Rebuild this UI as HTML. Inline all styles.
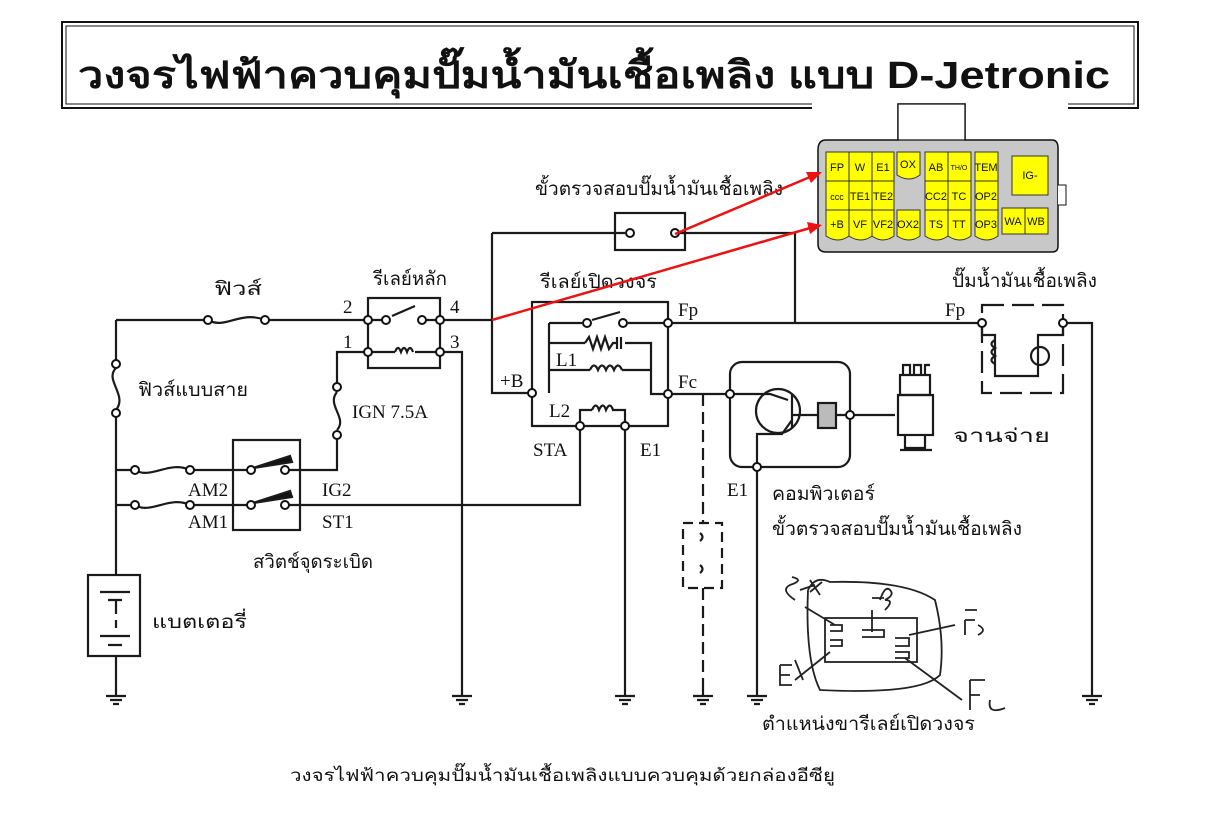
<!DOCTYPE html>
<html><head><meta charset="utf-8"><style>
body{margin:0;background:#fff;}
svg{display:block;}
text{font-family:"Liberation Serif","Noto Sans CJK SC",serif;fill:#111;}
text.th{font-family:"Liberation Sans","Noto Sans CJK SC",sans-serif;}
text.cn{font-family:"Liberation Sans",sans-serif;}
</style></head><body>
<svg width="1205" height="822" viewBox="0 0 1205 822" xmlns="http://www.w3.org/2000/svg">
<rect width="1205" height="822" fill="#fff"/>
<rect x="62" y="22" width="1076" height="86" fill="none" stroke="#111" stroke-width="2"/>
<rect x="66" y="26" width="1068" height="78" fill="none" stroke="#111" stroke-width="1"/>
<text x="78" y="88" class="th" font-size="38" font-weight="bold" textLength="1032" lengthAdjust="spacingAndGlyphs">วงจรไฟฟ้าควบคุมปั๊มน้ำมันเชื้อเพลิง แบบ D-Jetronic</text>

<g stroke="#1a1a1a" stroke-width="2.2" fill="none">
<path d="M116 320 H208 M265 320 H368"/>
<path d="M208 320 C225 330 240 310 265 320"/>
<rect x="368" y="298" width="72" height="70"/>
<path d="M368 320 H385 M392 316 L415 306 M425 320 H440 M368 352 H395 M415 352 H440"/>
<path d="M395 352 q3 -8 6 0 q3 -8 6 0 q3 -8 6 0"/>
<path d="M440 320 H492"/>
<path d="M116 320 V362 M116 415 V575 M116 656 V690"/>
<path d="M116 368 C104 380 128 395 116 410"/>
<path d="M368 352 H337 V387 M337 435 V470 H300"/>
<path d="M337 392 C326 405 348 418 337 430"/>
<path d="M440 352 H462 V690"/>
<rect x="233" y="440" width="67" height="90"/>
<path d="M116 470 H135 M190 470 H233 M233 470 H250 M285 470 H300 M116 505 H135 M190 505 H233 M233 505 H250 M285 505 H580 V426"/>
<path d="M135 470 C150 480 170 460 190 470 M135 505 C150 515 170 495 190 505"/>
<path d="M253 468 L290 456 L292 462 Z M253 503 L290 491 L292 497 Z" fill="#111"/>
<rect x="88" y="575" width="52" height="81"/>
<path d="M100 592 H130 M108 600 H122 M116 600 V614 M116 620 V628 M100 636 H130 M108 645 H122"/>
<rect x="615" y="213" width="70" height="37"/>
<path d="M492 233 H625 M680 233 H795 V323 M492 233 V393 H532"/>
<path d="M532 302 H668 V426 H532 Z"/>
<path d="M549 323 V393 M549 323 H582 M592 320 L620 312 M628 323 H668 M549 343 H585 M625 343 H651 V394 H668 M549 370 H590 M622 370 H651"/>
<path d="M585 343 l4 -6 l4 12 l4 -12 l4 12 l4 -12 l4 12 l4 -6 H617 M617 337 V349 M621 337 V349"/>
<path d="M590 370 q4 -9 8 0 q4 -9 8 0 q4 -9 8 0 q4 -9 8 0"/>
<path d="M580 426 V410 H592 M612 410 H625 V426 M625 426 V690"/>
<path d="M592 410 q4 -9 7 0 q4 -9 7 0 q4 -9 7 0"/>
<path d="M668 323 H982 M1063 323 H1092 V690"/>
<rect x="982" y="305" width="81" height="88" stroke-dasharray="22 8"/>
<path d="M982 323 V335 H995 V376 H1015 M1063 323 V335 H1038 V376 H1015"/>
<path d="M995 340 q-7 4 0 8 q-7 4 0 8 q-7 4 0 8"/>
<circle cx="1040" cy="356" r="9"/>
<path d="M668 394 H730"/>
<path d="M703 394 V523 M703 588 V690" stroke-dasharray="12 6"/>
<rect x="683" y="523" width="39" height="65" stroke-dasharray="10 6"/>
<path d="M700 533 q5 4 0 8 M700 573 q5 -4 0 -8"/>
<rect x="730" y="362" width="120" height="105" rx="12"/>
<circle cx="778" cy="411" r="22"/>
<path d="M792 395 V428 M730 394 H770 l18 6 M792 415 H818 M836 415 H895 M792 420 l-10 14 H757 V690"/>
<rect x="818" y="403" width="18" height="25" fill="#bbb"/>
<path d="M900 375 H930 V395 H900 Z M903 375 V365 H910 V375 M914 375 V365 H921 V375 M925 375 V365 H930" />
<rect x="898" y="395" width="35" height="40"/>
<path d="M905 435 V448 H925 V435 M900 450 H932"/>
<path d="M116 690 V696 M106 696 H126 M110 700 H122 M113 704 H119"/>
<path d="M462 690 V696 M452 696 H472 M456 700 H468 M459 704 H465"/>
<path d="M625 690 V696 M615 696 H635 M619 700 H631 M622 704 H628"/>
<path d="M703 690 V696 M693 696 H713 M697 700 H709 M700 704 H706"/>
<path d="M757 690 V696 M747 696 H767 M751 700 H763 M754 704 H760"/>
<path d="M1092 690 V696 M1082 696 H1102 M1086 700 H1098 M1089 704 H1095"/>
</g>
<g fill="#fff" stroke="#111" stroke-width="2">
<circle cx="208" cy="320" r="4"/><circle cx="265" cy="320" r="4"/>
<circle cx="368" cy="320" r="4"/><circle cx="440" cy="320" r="4"/><circle cx="368" cy="352" r="4"/><circle cx="440" cy="352" r="4"/>
<circle cx="386" cy="320" r="4"/><circle cx="422" cy="320" r="4"/>
<circle cx="116" cy="364" r="4"/><circle cx="116" cy="413" r="4"/>
<circle cx="337" cy="387" r="4"/><circle cx="337" cy="435" r="4"/>
<circle cx="135" cy="470" r="4"/><circle cx="190" cy="470" r="4"/><circle cx="135" cy="505" r="4"/><circle cx="190" cy="505" r="4"/>
<circle cx="251" cy="470" r="4"/><circle cx="285" cy="470" r="4"/><circle cx="251" cy="505" r="4"/><circle cx="285" cy="505" r="4"/>
<circle cx="630" cy="233" r="4"/><circle cx="675" cy="233" r="4"/>
<circle cx="532" cy="393" r="4"/><circle cx="668" cy="323" r="4"/><circle cx="668" cy="394" r="4"/><circle cx="580" cy="426" r="4"/><circle cx="625" cy="426" r="4"/>
<circle cx="587" cy="323" r="4"/><circle cx="623" cy="323" r="4"/>
<circle cx="982" cy="323" r="4"/><circle cx="1063" cy="323" r="4"/>
<circle cx="730" cy="394" r="4"/><circle cx="757" cy="467" r="4"/><circle cx="850" cy="415" r="4"/>
</g>
<g font-size="19">
<text x="214" y="295" class="th" textLength="48" lengthAdjust="spacingAndGlyphs">ฟิวส์</text>
<text x="373" y="285" class="th" textLength="74" lengthAdjust="spacingAndGlyphs">รีเลย์หลัก</text>
<text x="343" y="313">2</text><text x="450" y="313">4</text><text x="343" y="348">1</text><text x="450" y="348">3</text>
<text x="138" y="396" class="th" textLength="110" lengthAdjust="spacingAndGlyphs">ฟิวส์แบบสาย</text>
<text x="352" y="418">IGN 7.5A</text>
<text x="188" y="496">AM2</text><text x="188" y="528">AM1</text>
<text x="322" y="496">IG2</text><text x="322" y="528">ST1</text>
<text x="253" y="568" class="th" textLength="120" lengthAdjust="spacingAndGlyphs">สวิตช์จุดระเบิด</text>
<text x="152" y="628" class="th" textLength="95" lengthAdjust="spacingAndGlyphs">แบตเตอรี่</text>
<text x="535" y="195" class="th" textLength="248" lengthAdjust="spacingAndGlyphs">ขั้วตรวจสอบปั๊มน้ำมันเชื้อเพลิง</text>
<text x="540" y="288" class="th" textLength="117" lengthAdjust="spacingAndGlyphs">รีเลย์เปิดวงจร</text>
<text x="500" y="387">+B</text><text x="556" y="366">L1</text><text x="549" y="417">L2</text>
<text x="533" y="456">STA</text><text x="640" y="456">E1</text>
<text x="678" y="316">Fp</text><text x="678" y="388">Fc</text>
<text x="945" y="316">Fp</text>
<text x="952" y="287" class="th" textLength="145" lengthAdjust="spacingAndGlyphs">ปั๊มน้ำมันเชื้อเพลิง</text>
<text x="953" y="442" class="th" textLength="97" lengthAdjust="spacingAndGlyphs">จานจ่าย</text>
<text x="727" y="496">E1</text>
<text x="772" y="500" class="th" textLength="103" lengthAdjust="spacingAndGlyphs">คอมพิวเตอร์</text>
<text x="772" y="535" class="th" textLength="250" lengthAdjust="spacingAndGlyphs">ขั้วตรวจสอบปั๊มน้ำมันเชื้อเพลิง</text>
<text x="762" y="730" class="th" textLength="213" lengthAdjust="spacingAndGlyphs">ตำแหน่งขารีเลย์เปิดวงจร</text>
<text x="290" y="781" class="th" font-size="17" textLength="545" lengthAdjust="spacingAndGlyphs">วงจรไฟฟ้าควบคุมปั๊มน้ำมันเชื้อเพลิงแบบควบคุมด้วยกล่องอีซียู</text>
</g>
<g stroke="#222" stroke-width="1.8" fill="none">
<path d="M808 590 Q815 575 830 582 Q905 580 935 600 Q945 640 940 675 Q920 695 820 690 Q805 660 808 590"/>
<rect x="825" y="618" width="92" height="44"/>
<path d="M830 625 h12 v6 h-12 M830 640 h12 v6 h-12 M862 630 h22 v7 h-22 M895 638 h14 v8 h-14 M895 652 h14 v6 h-14"/>
<path d="M805 607 L835 625 M872 610 V632 M909 635 L955 625 M795 680 L830 652 M905 658 L962 700"/>
<path d="M795 600 q-15 -10 -5 -15 q15 -5 2 -8 M800 590 l15 -5 M810 580 l10 15 M810 592 l12 -10"/>
<path d="M880 600 q5 -15 10 -10 q5 5 -5 10 q10 0 0 10 M872 598 h12"/>
<path d="M965 620 v15 M965 610 h12 M965 620 h10 M978 625 q10 5 0 10"/>
<path d="M780 665 v20 h12 M780 665 h12 M780 675 h10 M795 660 l8 20"/>
<path d="M970 680 v30 M970 680 h15 M970 695 h10 M990 700 q-3 15 15 8"/>
</g>
<g>
<rect x="812" y="100" width="256" height="158" fill="#fff"/>
<path d="M898 104 H965 V140 H1052 Q1058 140 1058 148 V246 Q1058 252 1052 252 H826 Q818 252 818 244 V150 Q818 140 826 140 H898 Z" fill="#c8c8c8" stroke="#111" stroke-width="1.5"/>
<path d="M898 104 H965 V140 H898 Z" fill="#fff" stroke="#111" stroke-width="1.3"/>
<path d="M1058 185 h8 v20 h-8" fill="#fff" stroke="#111"/>
<g fill="#ffff00" stroke="#333" stroke-width="1">
<rect x="826" y="152" width="23" height="29"/><rect x="849" y="152" width="23" height="29"/><rect x="872" y="152" width="22" height="29"/>
<rect x="826" y="181" width="23" height="29"/><rect x="849" y="181" width="23" height="29"/><rect x="872" y="181" width="22" height="29"/>
<path d="M826 210 h23 v26 q-11 8 -23 0 Z M849 210 h23 v26 q-11 8 -23 0 Z M872 210 h22 v26 q-11 8 -22 0 Z"/>
<path d="M897 152 h23 v23 q-11 8 -23 0 Z"/>
<path d="M897 210 h23 v26 q-11 8 -23 0 Z"/>
<rect x="925" y="152" width="23" height="29"/><rect x="948" y="152" width="23" height="29"/>
<rect x="925" y="181" width="23" height="29"/><rect x="948" y="181" width="23" height="29"/>
<path d="M925 210 h23 v26 q-11 8 -23 0 Z M948 210 h23 v26 q-11 8 -23 0 Z"/>
<rect x="975" y="152" width="23" height="29"/><rect x="975" y="181" width="23" height="29"/>
<path d="M975 210 h23 v26 q-11 8 -23 0 Z"/>
<rect x="1012" y="156" width="36" height="39"/>
<rect x="1002" y="208" width="23" height="26"/><rect x="1025" y="208" width="23" height="26"/>
</g>
<g font-size="11" text-anchor="middle">
<text class="cn" x="837" y="171">FP</text><text class="cn" x="860" y="171">W</text><text class="cn" x="883" y="171">E1</text><text class="cn" x="908" y="168">OX</text>
<text class="cn" x="936" y="171">AB</text><text class="cn" x="959" y="170" font-size="7">TH/O</text><text class="cn" x="986" y="171">TEM</text><text class="cn" x="1030" y="179">IG-</text>
<text class="cn" x="837" y="200" font-size="9">ccc</text><text class="cn" x="860" y="200">TE1</text><text class="cn" x="883" y="200">TE2</text>
<text class="cn" x="936" y="200">CC2</text><text class="cn" x="959" y="200">TC</text><text class="cn" x="986" y="200">OP2</text>
<text class="cn" x="837" y="228">+B</text><text class="cn" x="860" y="228">VF</text><text class="cn" x="883" y="228">VF2</text><text class="cn" x="908" y="228">OX2</text>
<text class="cn" x="936" y="228">TS</text><text class="cn" x="959" y="228">TT</text><text class="cn" x="986" y="228">OP3</text>
<text class="cn" x="1013" y="225">WA</text><text class="cn" x="1036" y="225">WB</text>
</g>
</g>
<g stroke="#ee1111" stroke-width="2.5" fill="#ee1111">
<line x1="675" y1="234" x2="810" y2="177"/>
<polygon points="822,172 806,172 811,183" stroke="none"/>
<line x1="492" y1="320" x2="810" y2="228"/>
<polygon points="822,225 807,222 810,234" stroke="none"/>
</g>
</svg>
</body></html>
